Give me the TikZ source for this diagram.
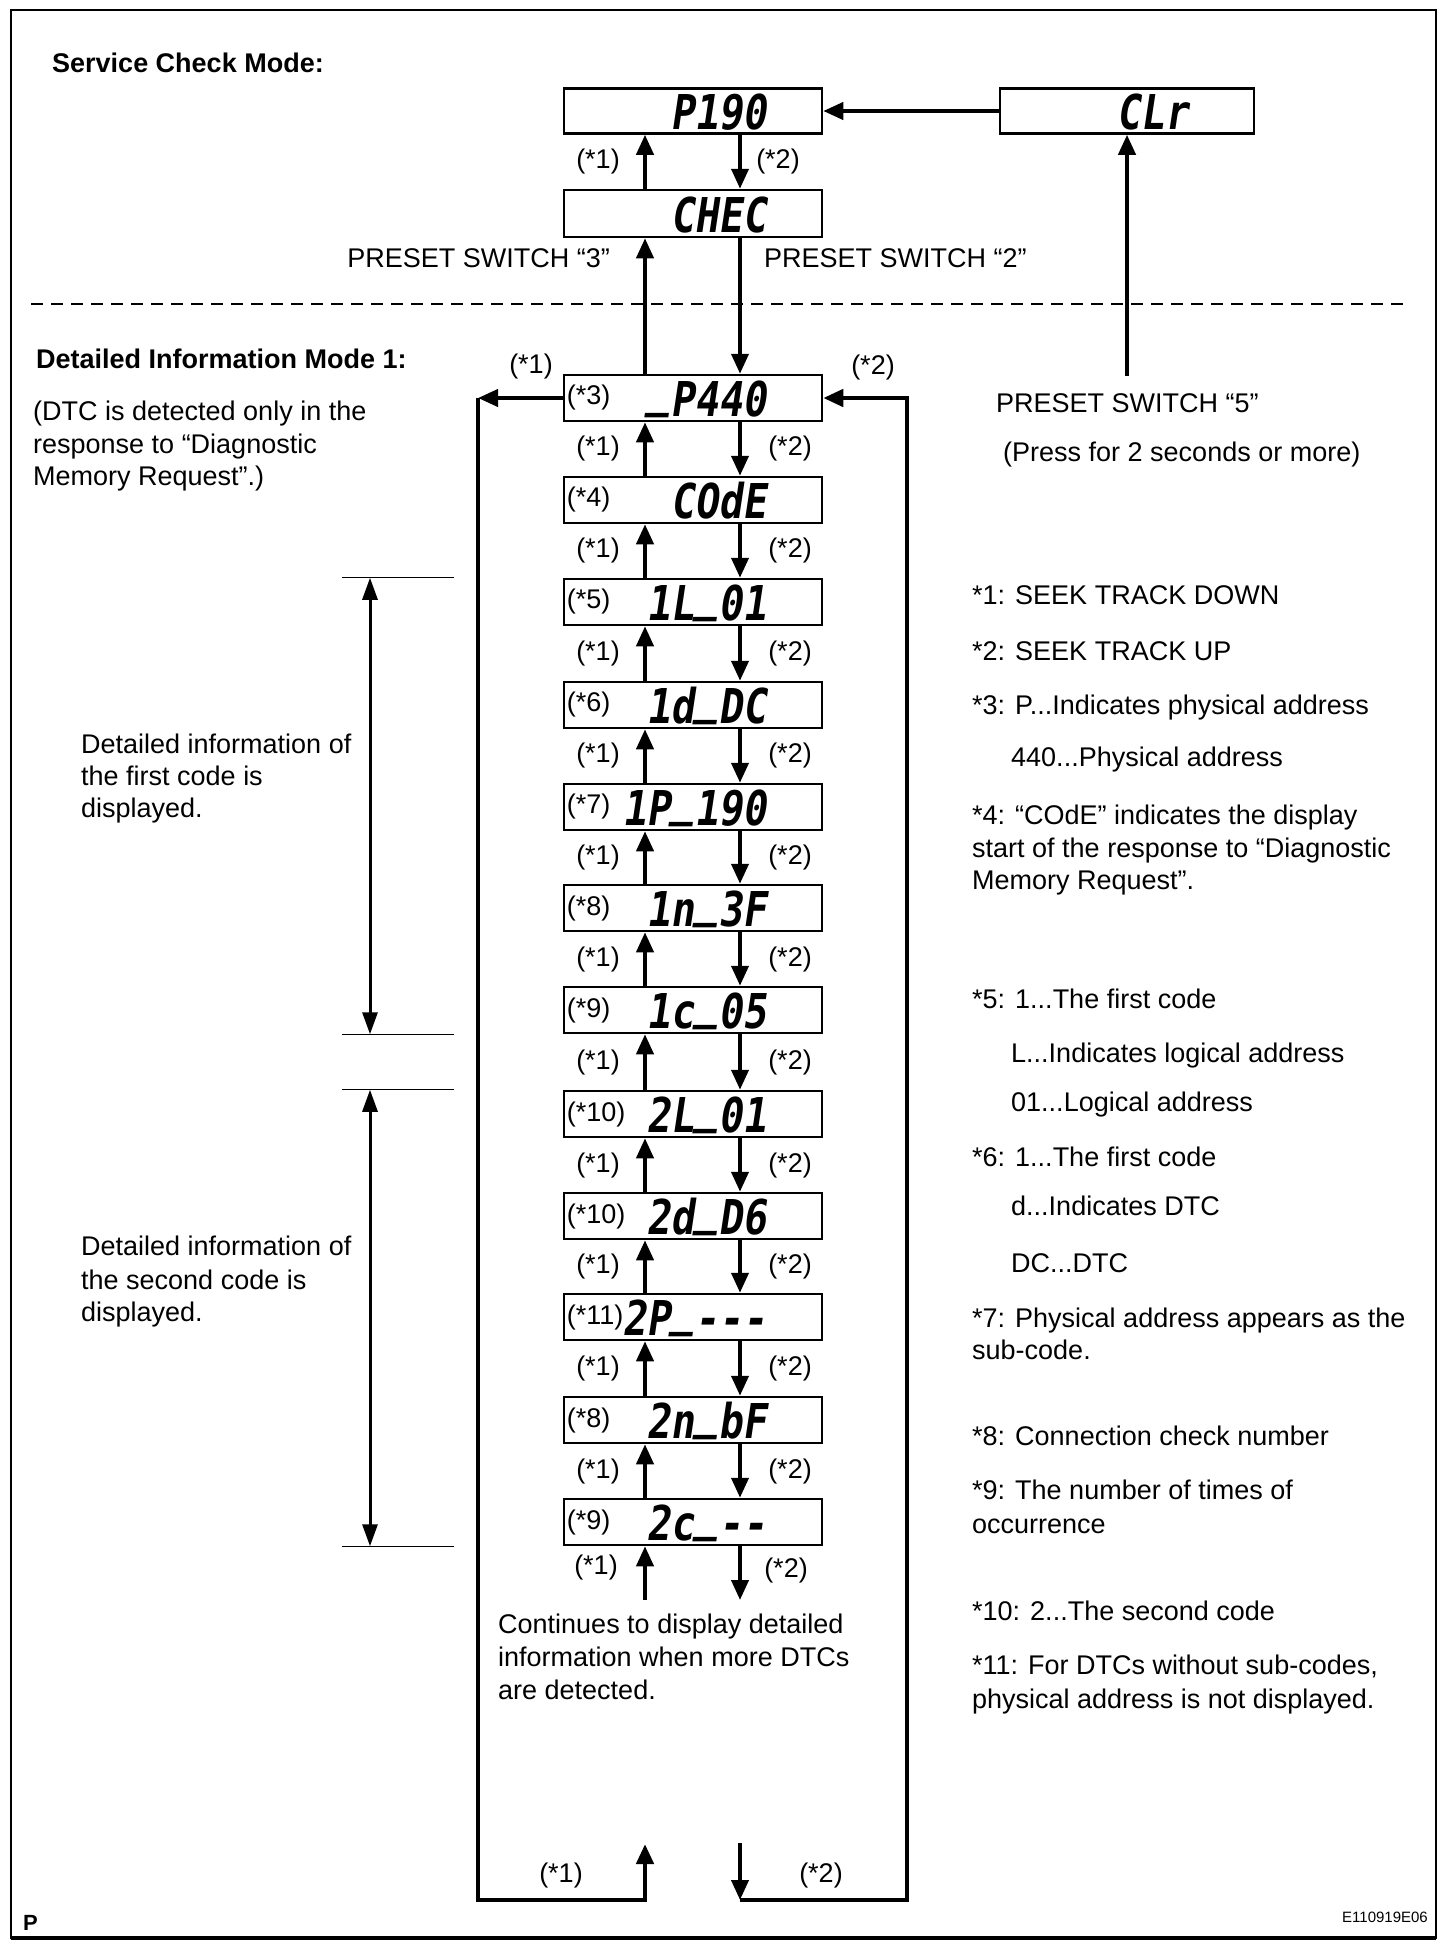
\documentclass[tikz,border=0pt]{standalone}
\usepackage{fontspec}
\setmainfont{Liberation Sans}
\newfontfamily\segfont[FakeSlant=0.15,FakeStretch=0.83]{DejaVu Sans Mono}
\usetikzlibrary{arrows.meta,calc}
\newcommand\us{\raisebox{10pt}{\_}}
\newcommand\sd{-\kern0pt}
\begin{document}
\begin{tikzpicture}[x=1pt,y=-1pt,
  txt/.style={font=\fontsize{27}{33}\selectfont, inner sep=0pt, anchor=base west},
  btxt/.style={font=\bfseries\fontsize{27}{33}\selectfont, inner sep=0pt, anchor=base west},
  lab/.style={font=\fontsize{27}{33}\selectfont, inner sep=0pt},
  dbox/.style={draw, line width=2.5pt, minimum width=258pt, minimum height=46pt, inner sep=0pt},
  seg/.style={font=\segfont\bfseries\fontsize{48}{48}\selectfont, inner sep=0pt, anchor=base east},
  arr/.style={line width=4pt, -{Triangle[length=20pt,width=17pt]}},
  loopl/.style={line width=4.5pt, line join=miter, -{Triangle[length=20pt,width=17pt]}},
  tick/.style={line width=1.2pt},
  dim/.style={line width=3pt, {Triangle[length=22pt,width=15pt]}-{Triangle[length=22pt,width=15pt]}}
]
\useasboundingbox (0,0) rectangle (1456,1944);
\fill[white] (0,0) rectangle (1456,1944);
\draw[line width=2.5pt] (11,10) rectangle (1436,1938);
\draw[line width=3.5pt] (11,1938) -- (1436,1938);

% headings and notes
\node[btxt] (h1) at (52,72) {Service Check Mode:};
\node[btxt] (h2) at (36,368) {Detailed Information Mode 1:};
\node[txt] (nt1) at (33,420) {(DTC is detected only in the};
\node[txt] (nt2) at (33,453) {response to “Diagnostic};
\node[txt] (nt3) at (33,485) {Memory Request”.)};

% separator
\draw[line width=1.5pt, dash pattern=on 12pt off 8pt] (31,304) -- (1409,304);

% top boxes
\node[dbox, minimum height=45pt] (p190) at (693,111) {};
\node[seg] (tp190) at (767,129) {P190};
\node[dbox, minimum height=47pt] (chec) at (693,213.5) {};
\node[seg] (tchec) at (767,232) {CHEC};
\node[dbox, minimum width=254pt, minimum height=45pt] (clr) at (1127,111) {};
\node[seg] (tclr) at (1189,129) {CLr};

% lower boxes
\foreach \n/\y/\l/\d in {3/398/{(*3)}/{\us P440}, 4/500/{(*4)}/{COdE},
   5/602/{(*5)}/{1L\us 01}, 6/705/{(*6)}/{1d\us DC}, 7/807/{(*7)}/{1P\us 190},
   8/908/{(*8)}/{1n\us 3F}, 9/1010/{(*9)}/{1c\us 05}, 10/1114/{(*10)}/{2L\us 01},
   11/1216/{(*10)}/{2d\us D6}, 12/1317/{(*11)}/{2P\us \sd\sd-},
   13/1420/{(*8)}/{2n\us bF}, 14/1522/{(*9)}/{2c\us \sd-}} {
  \node[dbox] (b\n) at (693,\y) {};
  \node[lab, anchor=west] (l\n) at ([xshift=4pt]b\n.west) {\l};
  \node[seg] (d\n) at (767,\y+18) {\d};
}

% helper x positions
\coordinate (ux) at (645,0);
\coordinate (dx) at (740,0);
\coordinate (l1x) at (598,0);
\coordinate (l2x) at (790,0);

% top arrows
\draw[arr] (clr.west) -- (p190.east);
\draw[arr] (chec.north -| ux) -- (p190.south -| ux);
\draw[arr] (p190.south -| dx) -- (chec.north -| dx);
\node[lab] (t1) at ($(p190.south -| l1x)!0.5!(chec.north -| l1x)$) {(*1)};
\node[lab] (t2) at ($(p190.south -| 778,0)!0.5!(chec.north -| 778,0)$) {(*2)};
\draw[arr] (b3.north -| ux) -- (chec.south -| ux);
\draw[arr] (chec.south -| dx) -- (b3.north -| dx);
\node[txt, anchor=base east] (ps3) at (610,267) {PRESET SWITCH “3”};
\node[txt] (ps2) at (764,267) {PRESET SWITCH “2”};

% preset 5
\node[txt] (ps5) at (996,412) {PRESET SWITCH “5”};
\node[txt] (press) at (1003,461) {(Press for 2 seconds or more)};
\coordinate (s5) at (1127,376);
\draw[arr] (s5) -- (s5 |- clr.south);

% chain arrows
\foreach \a/\b in {3/4,4/5,5/6,6/7,7/8,8/9,9/10,10/11,11/12,12/13,13/14} {
  \draw[arr] (b\b.north -| ux) -- (b\a.south -| ux);
  \draw[arr] (b\a.south -| dx) -- (b\b.north -| dx);
  \node[lab] (u\a) at ($(b\a.south -| l1x)!0.5!(b\b.north -| l1x)$) {(*1)};
  \node[lab] (v\a) at ($(b\a.south -| l2x)!0.5!(b\b.north -| l2x)$) {(*2)};
}

% below last box
\coordinate (e1) at (645,1600);
\coordinate (e2) at (740,1600);
\draw[arr] (e1) -- (e1 |- b14.south);
\draw[arr] (b14.south -| e2) -- (e2);
\node[lab] (u14) at (596,1567) {(*1)};
\node[lab] (v14) at (786,1570) {(*2)};
\node[txt] (c1) at (498,1633) {Continues to display detailed};
\node[txt] (c2) at (498,1666) {information when more DTCs};
\node[txt] (c3) at (498,1699) {are detected.};

% loops
\coordinate (lt) at (478,398);
\coordinate (lb) at (478,1900);
\coordinate (ub) at (645,1900);
\coordinate (ue) at (645,1844);
\draw[arr] (b3.west) -- (lt);
\draw[loopl] (lt) -- (lb) -- (ub) -- (ue);
\coordinate (dt) at (740,1843);
\coordinate (db) at (740,1900);
\coordinate (rb) at (907,1900);
\coordinate (rt) at (907,398);
\draw[arr] (dt) -- (db);
\draw[loopl] (db) -- (rb) -- (rt) -- (b3.east);
\node[lab] (lp1) at (531,367) {(*1)};
\node[lab] (lp2) at (873,368) {(*2)};
\node[lab] (lb1) at (561,1875) {(*1)};
\node[lab] (lb2) at (821,1875) {(*2)};

% brackets
\coordinate (tk1) at (342,0);
\coordinate (tk2) at (454,0);
\coordinate (dmx) at (370,0);
\draw[tick] (b5.north -| tk1) -- (b5.north -| tk2);
\draw[tick] (b9.south -| tk1) -- (b9.south -| tk2);
\draw[tick] (b10.north -| tk1) -- (b10.north -| tk2);
\draw[tick] (b14.south -| tk1) -- (b14.south -| tk2);
\draw[dim] (b5.north -| dmx) -- (b9.south -| dmx);
\draw[dim] (b10.north -| dmx) -- (b14.south -| dmx);
\node[txt] (f1) at (81,753) {Detailed information of};
\node[txt] (f2) at (81,785) {the first code is};
\node[txt] (f3) at (81,817) {displayed.};
\node[txt] (g1) at (81,1255) {Detailed information of};
\node[txt] (g2) at (81,1289) {the second code is};
\node[txt] (g3) at (81,1321) {displayed.};

% legend
\node[txt] (k1) at (972,604) {*1: SEEK TRACK DOWN};
\node[txt] (k2) at (972,660) {*2: SEEK TRACK UP};
\node[txt] (k3) at (972,714) {*3: P...Indicates physical address};
\node[txt] (k3b) at (1011,766) {440...Physical address};
\node[txt] (k4) at (972,824) {*4: “COdE” indicates the display};
\node[txt] (k4b) at (972,857) {start of the response to “Diagnostic};
\node[txt] (k4c) at (972,889) {Memory Request”.};
\node[txt] (k5) at (972,1008) {*5: 1...The first code};
\node[txt] (k5b) at (1011,1062) {L...Indicates logical address};
\node[txt] (k5c) at (1011,1111) {01...Logical address};
\node[txt] (k6) at (972,1166) {*6: 1...The first code};
\node[txt] (k6b) at (1011,1215) {d...Indicates DTC};
\node[txt] (k6c) at (1011,1272) {DC...DTC};
\node[txt] (k7) at (972,1327) {*7: Physical address appears as the};
\node[txt] (k7b) at (972,1359) {sub-code.};
\node[txt] (k8) at (972,1445) {*8: Connection check number};
\node[txt] (k9) at (972,1499) {*9: The number of times of};
\node[txt] (k9b) at (972,1533) {occurrence};
\node[txt] (k10) at (972,1620) {*10: 2...The second code};
\node[txt] (k11) at (972,1674) {*11: For DTCs without sub-codes,};
\node[txt] (k11b) at (972,1708) {physical address is not displayed.};

% footer
\node[font=\bfseries\fontsize{22}{22}\selectfont, inner sep=0pt, anchor=base west] (pp) at (23,1930) {P};
\node[font=\fontsize{15}{15}\selectfont, inner sep=0pt, anchor=base east] (code) at (1428,1922) {E110919E06};
\end{tikzpicture}
\end{document}
